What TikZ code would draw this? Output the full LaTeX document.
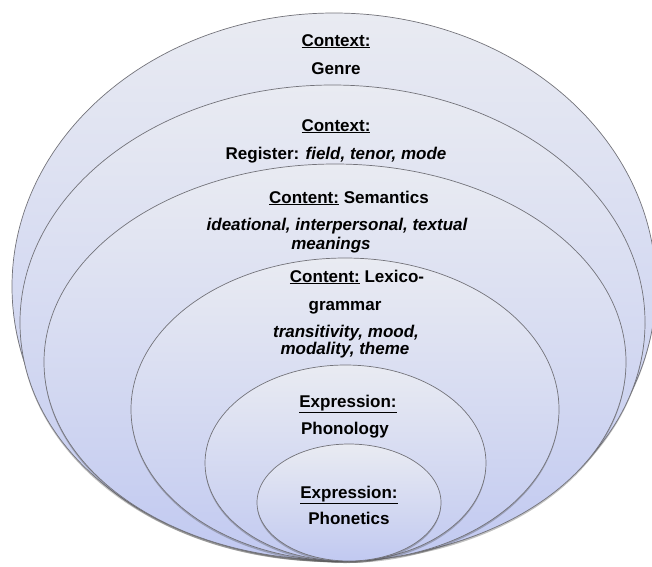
\documentclass[tikz,border=0pt]{standalone}
\usepackage{fontspec}
\setmainfont{Liberation Sans}
\usetikzlibrary{shapes.geometric,shadows}
\definecolor{ftop}{RGB}{233,235,242}
\definecolor{fbot}{RGB}{193,201,241}
\definecolor{edge}{RGB}{115,115,122}
\tikzset{
  layer/.style={ellipse, draw=edge, line width=0.7pt, inner sep=0pt,
    top color=ftop, bottom color=fbot,
    drop shadow={shadow xshift=0pt, shadow yshift=-2pt, opacity=0.35, fill=black!70}},
  lbl/.style={anchor=base, inner sep=0pt, font=\fontsize{17}{19}\selectfont\bfseries},
  ilbl/.style={lbl, font=\fontsize{17}{19}\selectfont\bfseries\itshape}
}
\newcommand{\ul}[1]{\underline{#1}}
\begin{document}
\begin{tikzpicture}[x=1pt,y=-1pt]
\useasboundingbox (0,0) rectangle (652,566);
\node[layer, minimum width=644pt, minimum height=547pt] (e1) at (334,286.5) {};
\node[layer, minimum width=625pt, minimum height=475pt] (e2) at (332.5,322.5) {};
\node[layer, minimum width=582pt, minimum height=396pt] (e3) at (335,362) {};
\node[layer, minimum width=428pt, minimum height=303pt] (e4) at (345,409.5) {};
\node[layer, minimum width=281pt, minimum height=196pt] (e5) at (345.5,463) {};
\node[layer, minimum width=184pt, minimum height=117pt] (e6) at (349,502.5) {};
% labels
\node[lbl] (t1) at (336,46) {\ul{Context:}};
\node[lbl] (t2) at (336,74) {Genre};
\node[lbl] (t3) at (336,131) {\ul{Context:}};
\node[lbl] (t4) at (336,159) {Register: {\itshape field, tenor, mode}};
\node[lbl] (t5) at (349,203) {\ul{Content:} Semantics};
\node[ilbl] (t6) at (337,230) {ideational, interpersonal, textual};
\node[ilbl] (t7) at (331,249) {meanings};
\node[lbl] (t8) at (357,282) {\ul{Content:} Lexico-};
\node[lbl] (t9) at (345,310) {grammar};
\node[ilbl] (t10) at (346,337) {transitivity, mood,};
\node[ilbl] (t11) at (345,354) {modality, theme};
\node[lbl] (t12) at (348,407) {\ul{Expression:}};
\node[lbl] (t13) at (345,434) {Phonology};
\node[lbl] (t14) at (349,498) {\ul{Expression:}};
\node[lbl] (t15) at (349,524) {Phonetics};
\end{tikzpicture}
\end{document}
